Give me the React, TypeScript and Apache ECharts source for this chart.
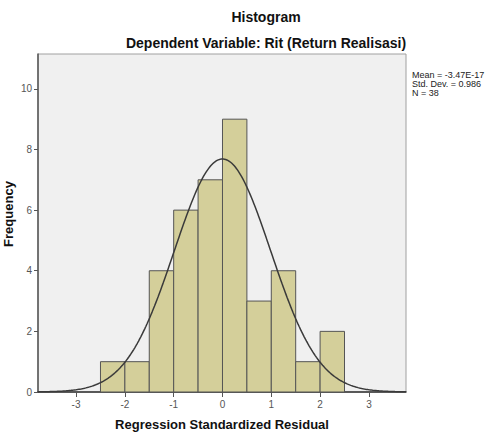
import React, { useEffect, useRef } from "react";
import * as echarts from "echarts";

const binStarts = [-2.5, -2, -1.5, -1, -0.5, 0, 0.5, 1, 1.5, 2];
const binWidth = 0.5;
const counts = [1, 1, 4, 6, 7, 9, 3, 4, 1, 2];
const meanValue = -3.47e-17;
const stdDev = 0.986;
const nCount = 38;
const xTicks = [-3, -2, -1, 0, 1, 2, 3];
const yTicks = [0, 2, 4, 6, 8, 10];
const xMin = -3.78;
const xMax = 3.76;
const yMax = 11.15;

const statsLines = ["Mean = -3.47E-17", "Std. Dev. = 0.986", "N = 38"];

function normalCurve(): number[][] {
  const pts: number[][] = [];
  const steps = 300;
  for (let i = 0; i <= steps; i++) {
    const x = xMin + ((xMax - xMin) * i) / steps;
    const z = (x - meanValue) / stdDev;
    const y = (nCount * binWidth * Math.exp(-0.5 * z * z)) / (stdDev * Math.sqrt(2 * Math.PI));
    pts.push([x, y]);
  }
  return pts;
}

export default function App() {
  const ref = useRef<HTMLDivElement>(null);
  useEffect(() => {
    if (!ref.current) return;
    const chart = echarts.init(ref.current, null, { renderer: "svg" });
    const font = "'Liberation Sans', Arial, sans-serif";
    const barData = binStarts.map((s, i) => [s, s + binWidth, counts[i]]);
    chart.setOption({
      animation: false,
      backgroundColor: "#ffffff",
      textStyle: { fontFamily: font },
      grid: {
        left: 38,
        right: 83,
        top: 54,
        bottom: 42,
        show: true,
        backgroundColor: "#f0f0f0",
        borderColor: "#a0a0a0",
        borderWidth: 1,
      },
      xAxis: {
        type: "value",
        min: xMin,
        max: xMax,
        splitLine: { show: false },
        axisLine: { show: true, onZero: false, lineStyle: { color: "#333", width: 1.5 } },
        axisTick: { show: true, length: 5, customValues: xTicks, lineStyle: { color: "#555" } },
        axisLabel: {
          customValues: xTicks,
          margin: 7,
          fontSize: 10,
          color: "#555",
          fontFamily: font,
        },
      },
      yAxis: {
        type: "value",
        min: 0,
        max: yMax,
        splitLine: { show: false },
        axisLine: { show: true, onZero: false, lineStyle: { color: "#555", width: 1.5 } },
        axisTick: { show: true, length: 4, customValues: yTicks, lineStyle: { color: "#555" } },
        axisLabel: {
          customValues: yTicks,
          margin: 6,
          fontSize: 10,
          color: "#555",
          fontFamily: font,
        },
      },
      series: [
        {
          type: "custom",
          data: barData,
          renderItem: (params: any, api: any) => {
            const x0 = api.value(0);
            const x1 = api.value(1);
            const v = api.value(2);
            const p0 = api.coord([x0, v]);
            const p1 = api.coord([x1, 0]);
            return {
              type: "rect",
              shape: { x: p0[0], y: p0[1], width: p1[0] - p0[0], height: p1[1] - p0[1] },
              style: { fill: "#d4cf9a", stroke: "#555555", lineWidth: 1 },
            };
          },
          encode: { x: [0, 1], y: 2 },
          z: 2,
        },
        {
          type: "line",
          data: normalCurve(),
          showSymbol: false,
          smooth: false,
          lineStyle: { color: "#3a3a3a", width: 1.5 },
          z: 3,
        },
      ],
      graphic: [
        {
          type: "text",
          x: 266,
          y: 17,
          style: {
            text: "Histogram",
            fontSize: 14,
            fontWeight: "bold",
            fontFamily: font,
            fill: "#111",
            align: "center",
            verticalAlign: "middle",
          },
        },
        {
          type: "text",
          x: 266,
          y: 43,
          style: {
            text: "Dependent Variable: Rit (Return Realisasi)",
            fontSize: 14,
            fontWeight: "bold",
            fontFamily: font,
            fill: "#111",
            align: "center",
            verticalAlign: "middle",
          },
        },
        {
          type: "text",
          x: 222,
          y: 424,
          style: {
            text: "Regression Standardized Residual",
            fontSize: 13,
            fontWeight: "bold",
            fontFamily: font,
            fill: "#111",
            align: "center",
            verticalAlign: "middle",
          },
        },
        {
          type: "text",
          x: 8,
          y: 214,
          rotation: Math.PI / 2,
          style: {
            text: "Frequency",
            fontSize: 13,
            fontWeight: "bold",
            fontFamily: font,
            fill: "#111",
            align: "center",
            verticalAlign: "middle",
          },
        },
        ...statsLines.map((t, i) => ({
          type: "text",
          x: 412,
          y: 75 + i * 9,
          style: {
            text: t,
            fontSize: 9,
            fontFamily: font,
            fill: "#222",
            align: "left",
            verticalAlign: "middle",
          },
        })),
      ],
    });
    return () => chart.dispose();
  }, []);
  return <div ref={ref} style={{ width: 489, height: 434, position: "absolute", left: 0, top: 0 }} />;
}
